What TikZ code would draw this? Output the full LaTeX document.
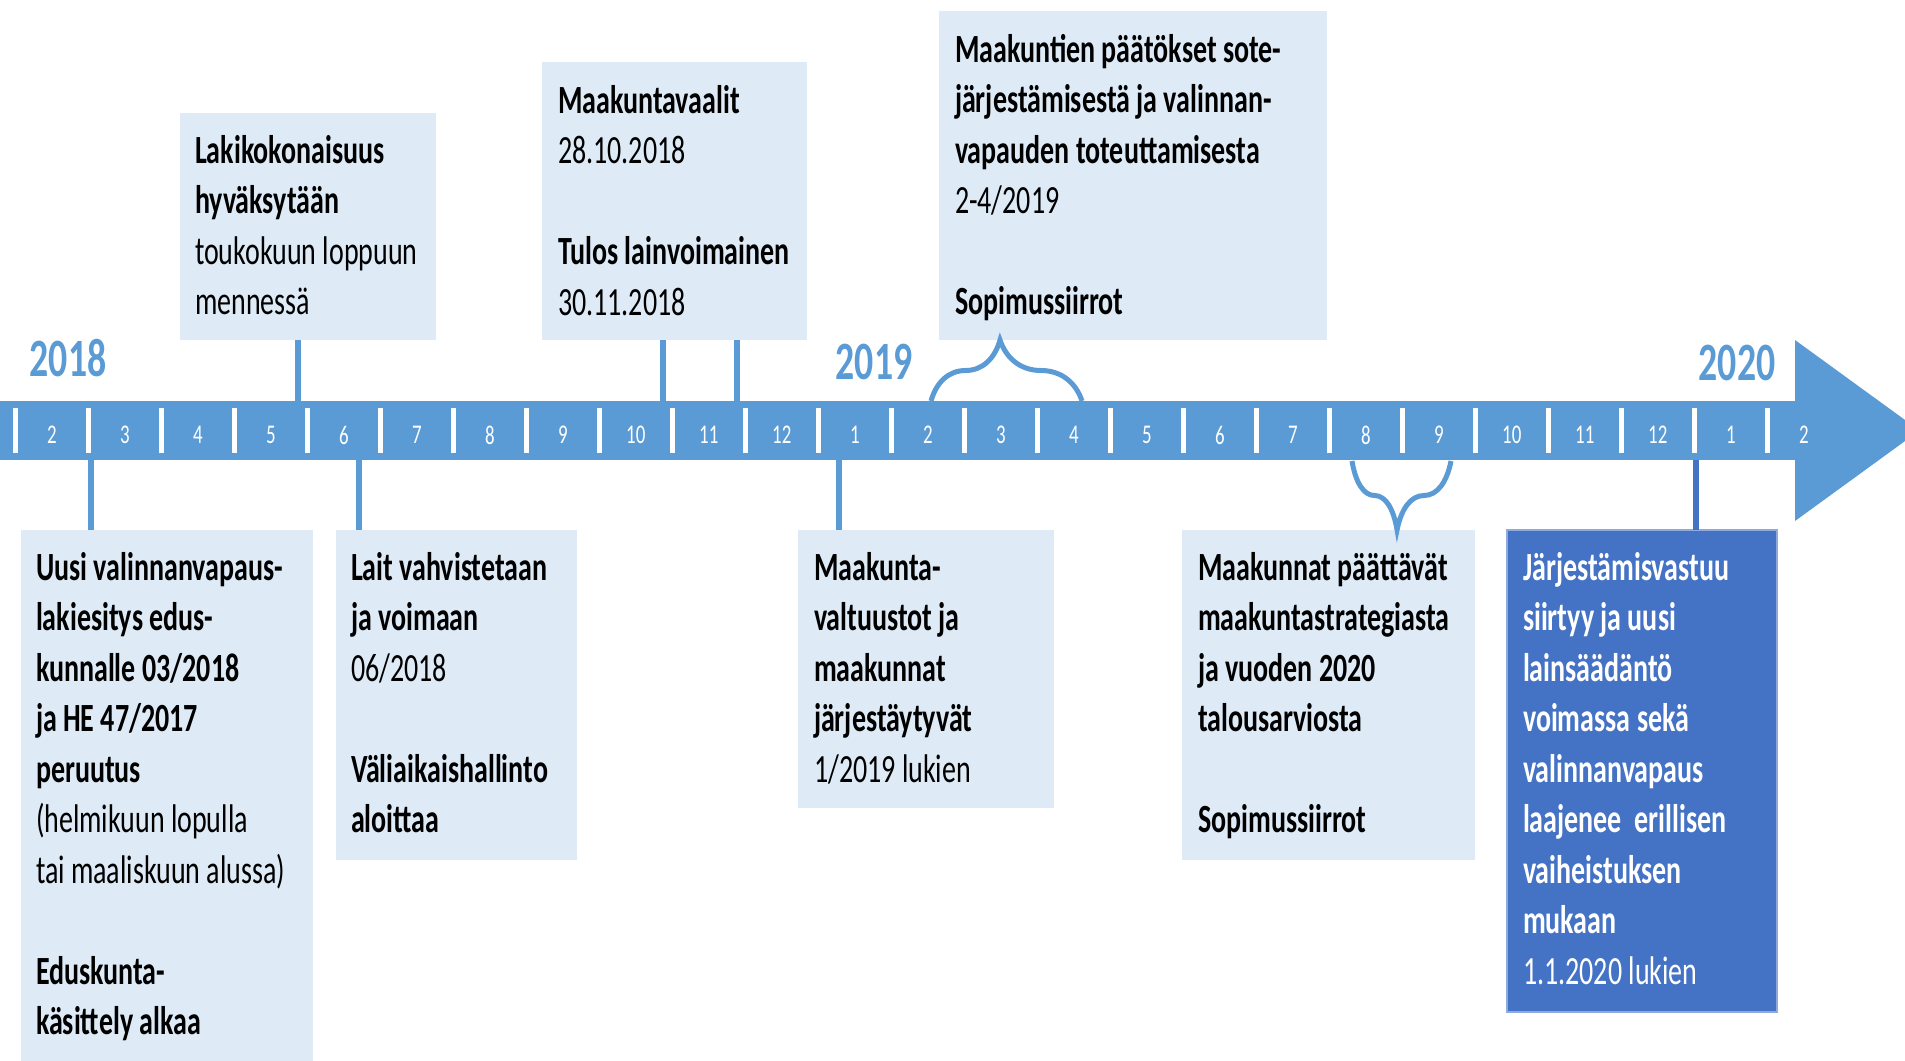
\documentclass[tikz,border=0pt]{standalone}
\usepackage{fontspec}
\setmainfont{Carlito}[FakeStretch=0.70]
\usetikzlibrary{decorations.pathreplacing}
\definecolor{barblue}{HTML}{5B9BD5}
\definecolor{palefill}{HTML}{DEEBF7}
\definecolor{deepfill}{HTML}{4472C4}
\definecolor{deepedge}{HTML}{8FAADC}
\tikzset{
  boxsize/.style 2 args={anchor=north west, inner sep=0pt, outer sep=0pt,
    minimum width=#1*0.5pt, minimum height=#2*0.5pt},
  pale/.style={fill=palefill},
  deep/.style={fill=deepfill, draw=deepedge, line width=0.8pt},
  body/.style={anchor=north west, inner sep=0pt, outer sep=0pt, align=left,
    font=\fontsize{20pt}{25.25pt}\selectfont, text=black},
  bodywhite/.style={body, text=white},
  yearlbl/.style={inner sep=0pt, font=\fontsize{27pt}{30pt}\selectfont\bfseries, text=barblue},
  monthlbl/.style={inner sep=0pt, font=\fontsize{13.5pt}{15pt}\selectfont, text=white},
  conn/.style={draw=barblue, line width=3pt},
  deepconn/.style={draw=deepfill, line width=3pt},
  bracelink/.style={draw=barblue, line width=2.5pt, decorate},
}
\begin{document}
\begin{tikzpicture}[x=0.5pt,y=-0.5pt]
\useasboundingbox (0,0) rectangle (1905,1060);
\clip (0,0) rectangle (1905,1060);

% timeline bar and arrow head
\node[boxsize={1796}{59}, fill=barblue] (bar) at (0,401) {};
\fill[barblue] (1795,340) -- (1919.5,430.5) -- (1795,521) -- cycle;
\foreach \k in {0,...,24}{
  \pgfmathsetmacro{\tx}{15.3+73*\k}
  \fill[white] (\tx-2.5,408) rectangle (\tx+2.5,453);
  \pgfmathtruncatemacro{\m}{mod(\k+1,12)+1}
  \node[monthlbl] (m\k) at (51.8+73*\k,435) {\m};
}

% years
\node[yearlbl] (y2018) at (68,358) {2018};
\node[yearlbl] (y2019) at (874,362) {2019};
\node[yearlbl] (y2020) at (1737,363) {2020};

% top boxes
\node[boxsize={256}{227}, pale] (t1) at (180,113) {};
\node[boxsize={265}{278}, pale] (t2) at (542,62) {};
\node[boxsize={388}{329}, pale] (t3) at (939,11) {};

\node[body] (t1txt) at (195,127.65) {\strut\textbf{Lakikokonaisuus}\\
\strut\textbf{hyväksytään}\\
\strut toukokuun loppuun\\
\strut mennessä};

\node[body] (t2txt) at (558,77.65) {\strut\textbf{Maakuntavaalit}\\
\strut 28.10.2018\\
\strut\\
\strut\textbf{Tulos lainvoimainen}\\
\strut 30.11.2018};

\node[body] (t3txt) at (955,26.65) {\strut\textbf{Maakuntien päätökset sote-}\\
\strut\textbf{järjestämisestä ja valinnan-}\\
\strut\textbf{vapauden toteuttamisesta}\\
\strut 2-4/2019\\
\strut\\
\strut\textbf{Sopimussiirrot}};

% bottom boxes
\node[boxsize={292}{540}, pale] (bA) at (21,530) {};
\node[boxsize={241}{330}, pale] (bB) at (336,530) {};
\node[boxsize={256}{278}, pale] (bC) at (798,530) {};
\node[boxsize={293}{330}, pale] (bD) at (1182,530) {};
\node[boxsize={270}{482}, deep] (bE) at (1507,530) {};

\node[body] (bAtxt) at (36,544.65) {\strut\textbf{Uusi valinnanvapaus-}\\
\strut\textbf{lakiesitys edus-}\\
\strut\textbf{kunnalle 03/2018}\\
\strut\textbf{ja HE 47/2017}\\
\strut\textbf{peruutus}\\
\strut (helmikuun lopulla\\
\strut tai maaliskuun alussa)\\
\strut\\
\strut\textbf{Eduskunta-}\\
\strut\textbf{käsittely alkaa}};

\node[body] (bBtxt) at (351,544.65) {\strut\textbf{Lait vahvistetaan}\\
\strut\textbf{ja voimaan}\\
\strut 06/2018\\
\strut\\
\strut\textbf{Väliaikaishallinto}\\
\strut\textbf{aloittaa}};

\node[body] (bCtxt) at (814,544.65) {\strut\textbf{Maakunta-}\\
\strut\textbf{valtuustot ja}\\
\strut\textbf{maakunnat}\\
\strut\textbf{järjestäytyvät}\\
\strut 1/2019 lukien};

\node[body] (bDtxt) at (1198,544.65) {\strut\textbf{Maakunnat päättävät}\\
\strut\textbf{maakuntastrategiasta}\\
\strut\textbf{ja vuoden 2020}\\
\strut\textbf{talousarviosta}\\
\strut\\
\strut\textbf{Sopimussiirrot}};

\node[bodywhite] (bEtxt) at (1523,544.65) {\strut\textbf{Järjestämisvastuu}\\
\strut\textbf{siirtyy ja uusi}\\
\strut\textbf{lainsäädäntö}\\
\strut\textbf{voimassa sekä}\\
\strut\textbf{valinnanvapaus}\\
\strut\textbf{laajenee\ \ erillisen}\\
\strut\textbf{vaiheistuksen}\\
\strut\textbf{mukaan}\\
\strut 1.1.2020 lukien};

% connector positions
\coordinate (c1) at (298,0);
\coordinate (c2) at (663,0);
\coordinate (c3) at (737,0);
\coordinate (c4) at (91,0);
\coordinate (c5) at (359,0);
\coordinate (c6) at (839,0);
\coordinate (c7) at (1696,0);

\draw[conn] (t1.south -| c1) -- (bar.north -| c1);
\draw[conn] (t2.south -| c2) -- (bar.north -| c2);
\draw[conn] (t2.south -| c3) -- (bar.north -| c3);
\draw[conn] (bar.south -| c4) -- (bA.north -| c4);
\draw[conn] (bar.south -| c5) -- (bB.north -| c5);
\draw[conn] (bar.south -| c6) -- (bC.north -| c6);
\draw[deepconn] (bar.south -| c7) -- (bE.north -| c7);

% braces
\coordinate (br1a) at (931,401);
\coordinate (br1b) at (1082,401);
\draw[bracelink, decoration={brace, amplitude=30.5pt, aspect=0.457}] (br1a) -- (br1b);
\coordinate (br2a) at (1451,461);
\coordinate (br2b) at (1352,461);
\draw[bracelink, decoration={brace, amplitude=34.5pt, aspect=0.545}] (br2a) -- (br2b);
\end{tikzpicture}
\end{document}
